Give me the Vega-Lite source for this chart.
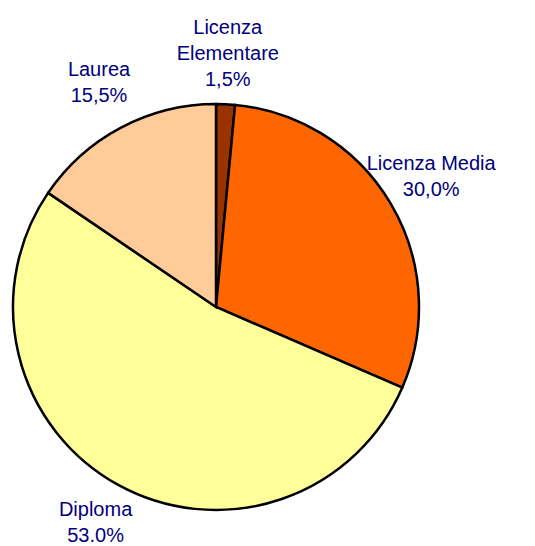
{
  "$schema": "https://vega.github.io/schema/vega-lite/v6.json",
  "width": 432,
  "height": 400,
  "autosize": {"type": "none"},
  "padding": {"top": 107, "left": 0, "right": 103, "bottom": 39},
  "background": "white",
  "data": {
    "values": [
      {"categoria": "Licenza Elementare", "valore": 1.5, "ordine": 1, "etichetta": "Licenza|Elementare|1,5%"},
      {"categoria": "Licenza Media", "valore": 30.0, "ordine": 2, "etichetta": "Licenza Media|30,0%"},
      {"categoria": "Diploma", "valore": 53.0, "ordine": 3, "etichetta": "Diploma|53.0%"},
      {"categoria": "Laurea", "valore": 15.5, "ordine": 4, "etichetta": "Laurea|15,5%"}
    ]
  },
  "transform": [
    {"calculate": "split(datum.etichetta, '|')", "as": "righe"}
  ],
  "encoding": {
    "theta": {"field": "valore", "type": "quantitative", "stack": true},
    "order": {"field": "ordine", "type": "quantitative"}
  },
  "layer": [
    {
      "mark": {"type": "arc", "outerRadius": 203, "stroke": "black", "strokeWidth": 2.5},
      "encoding": {
        "color": {
          "field": "categoria",
          "type": "nominal",
          "scale": {
            "domain": ["Licenza Elementare", "Licenza Media", "Diploma", "Laurea"],
            "range": ["#993300", "#FF6600", "#FFFF99", "#FFCC99"]
          },
          "legend": null
        }
      }
    },
    {
      "mark": {"type": "text", "radius": 250, "font": "Liberation Sans", "fontSize": 20, "fill": "#000080", "lineHeight": 26, "align": "center", "baseline": "middle", "dy": {"expr": "-13 * (length(datum.righe) - 1) - 3"}},
      "encoding": {
        "text": {"field": "righe", "type": "nominal"}
      }
    }
  ]
}
